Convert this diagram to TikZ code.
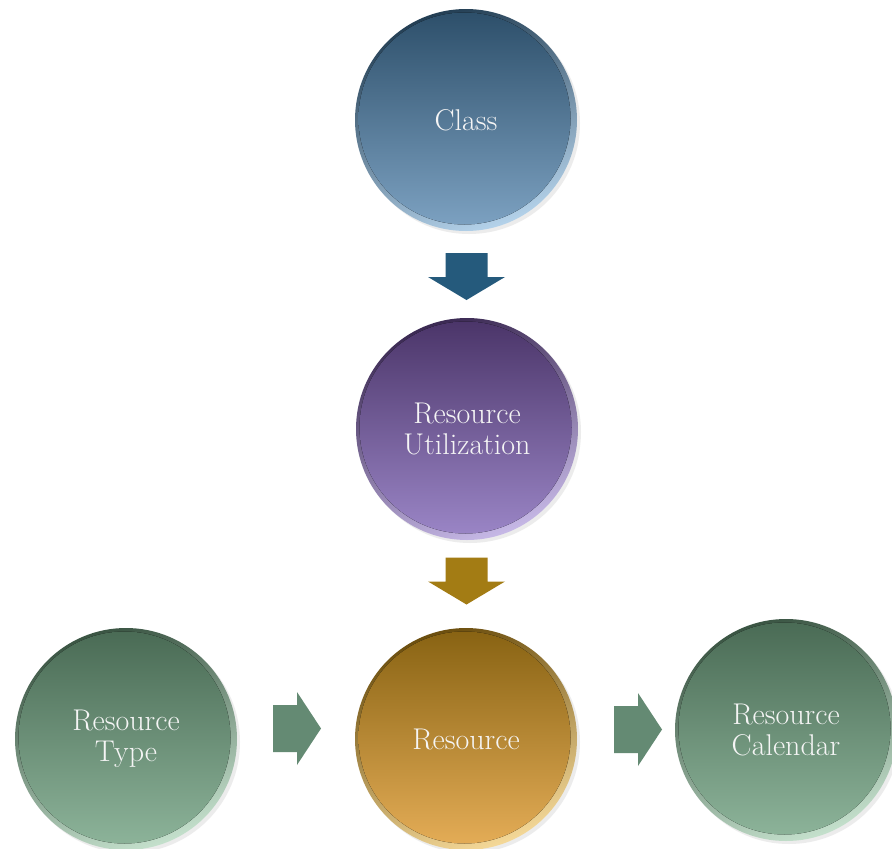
\documentclass[tikz,border=0pt]{standalone}
\usepackage{fontspec}
\usetikzlibrary{calc,shadows}
\definecolor{bluetop}{HTML}{2C4E69}
\definecolor{bluebot}{HTML}{7EA3C3}
\definecolor{bluerim}{HTML}{B4D2EA}
\definecolor{purtop}{HTML}{4A3468}
\definecolor{purbot}{HTML}{9C87C8}
\definecolor{purrim}{HTML}{C6B8E6}
\definecolor{goldtop}{HTML}{876212}
\definecolor{goldbot}{HTML}{E6AE58}
\definecolor{goldrim}{HTML}{F4D898}
\definecolor{grntop}{HTML}{496A54}
\definecolor{grnbot}{HTML}{8EB59B}
\definecolor{grnrim}{HTML}{C4E0CC}
\definecolor{arrblue}{HTML}{255A7C}
\definecolor{arrgold}{HTML}{A37C14}
\definecolor{arrgrn}{HTML}{648A73}
\tikzset{
  ball/.style n args={3}{circle, minimum size=222pt, inner sep=0pt, align=center,
    text=white!96!black, font=\fontsize{30}{31}\selectfont,
    top color=#1!80!black, bottom color=#3, shading angle=20,
    drop shadow={opacity=0.15, shadow xshift=3pt, shadow yshift=-3pt},
    path picture={\fill[top color=#1, bottom color=#2]
      ([shift={(-1.5pt,1.5pt)}]path picture bounding box.center) circle (106pt);}},
  downarr/.pic={\fill[pic actions] (-21,-23.5) -- (21,-23.5) -- (21,0.5) -- (38.5,0.5)
      -- (0,23.5) -- (-38.5,0.5) -- (-21,0.5) -- cycle;},
  rightarr/.pic={\fill[pic actions] (-24,-23.5) -- (0,-23.5) -- (0,-36.5) -- (24,0)
      -- (0,36.5) -- (0,23.5) -- (-24,23.5) -- cycle;}
}
\begin{document}
\begin{tikzpicture}[x=1pt,y=-1pt]
\useasboundingbox[fill=white] (0,0) rectangle (892,849);
\node[ball={bluetop}{bluebot}{bluerim}] (class) at (466,120) {Class};
\node[ball={purtop}{purbot}{purrim}] (util) at (467,429) {Resource\\Utilization};
\node[ball={goldtop}{goldbot}{goldrim}] (res) at (466,739) {Resource};
\node[ball={grntop}{grnbot}{grnrim}] (type) at (126,739) {Resource\\Type};
\node[ball={grntop}{grnbot}{grnrim}] (cal) at (786,730) {Resource\\Calendar};
\coordinate (a1) at ($(class.south)!0.5!(util.north)+(0,2)$);
\coordinate (a2) at ($(util.south)!0.5!(res.north)+(0,-3)$);
\coordinate (a3) at ($(type.east)!0.5!(res.west)+(1,-10.5)$);
\coordinate (a4) at ($(res.east)!0.5!(cal.west)+(12,-5)$);
\pic[fill=arrblue] at (a1) {downarr};
\pic[fill=arrgold] at (a2) {downarr};
\pic[fill=arrgrn] at (a3) {rightarr};
\pic[fill=arrgrn] at (a4) {rightarr};
\end{tikzpicture}
\end{document}
